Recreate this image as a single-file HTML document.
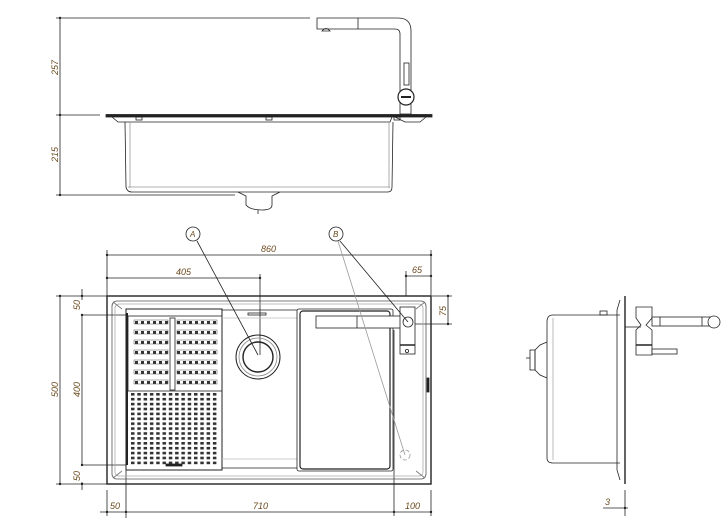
<!DOCTYPE html>
<html><head><meta charset="utf-8"><style>
html,body{margin:0;padding:0;background:#fff}
svg{display:block}
text{font-family:"Liberation Sans",sans-serif;font-size:9px;font-style:italic;fill:#6b4a1e}
</style></head><body>
<svg width="728" height="528" viewBox="0 0 728 528" xmlns="http://www.w3.org/2000/svg">
<defs>
<pattern id="dots" x="131" y="393" width="6.3" height="4.9" patternUnits="userSpaceOnUse">
<rect x="0" y="0" width="3.5" height="2.6" fill="#333"/>
</pattern>
<pattern id="dots2" x="135" y="321" width="6" height="10" patternUnits="userSpaceOnUse">
<rect x="0" y="0" width="3" height="3" fill="#333"/>
</pattern>
</defs>
<g fill="none" stroke="#222" stroke-width="0.8">
<!-- TOP ELEVATION -->
<line x1="60" y1="18" x2="60" y2="195"/>
<line x1="56" y1="18" x2="310" y2="18"/>
<line x1="56" y1="115" x2="100" y2="115"/>
<line x1="56" y1="195" x2="235" y2="195"/>
<rect x="106" y="114.5" width="326" height="2.5" fill="#222"/>
<path d="M112 117 L118 122 L390 122 L392 117"/>
<path d="M395 117 L405 122 L420 122 L426 117"/>
<path d="M125 122 L126 187 Q127 192 132 192 L388 192 Q392 192 392 187 L393 122"/>
<line x1="130" y1="122" x2="130" y2="188" stroke="#999"/>
<line x1="389" y1="122" x2="389" y2="188" stroke="#999"/>
<line x1="128" y1="187" x2="390" y2="187" stroke="#999"/>
<path d="M238 192 L246 196 L246 205 Q250 210 262 210 Q272 210 272 205 L272 196 L280 192"/>
<line x1="258" y1="210" x2="258" y2="214"/>
<rect x="136" y="117" width="6" height="3"/><rect x="266" y="117" width="6" height="3"/><rect x="394" y="117" width="6" height="3"/>
<!-- faucet -->
<path d="M317 18 L398 18 Q411 18 411 31 L411 114 L400 114 L400 34 Q400 29 395 29 L317 29 Z" fill="#fff"/>
<line x1="358" y1="18" x2="358" y2="29"/>
<path d="M322 31 Q326 26 330 31 Z"/>
<rect x="404" y="63" width="5" height="22" fill="#fff"/>
<circle cx="406" cy="97" r="8" fill="#fff" stroke-width="1.2"/>
<line x1="401" y1="97" x2="411" y2="97" stroke-width="2"/>

<!-- PLAN -->
<line x1="107" y1="255" x2="431" y2="255"/>
<line x1="107" y1="250" x2="107" y2="296"/><line x1="431" y1="250" x2="431" y2="296"/>
<line x1="107" y1="278" x2="260" y2="278"/>
<line x1="260" y1="274" x2="260" y2="355"/>
<line x1="406" y1="276" x2="431" y2="276"/>
<line x1="406" y1="271" x2="406" y2="296"/>
<line x1="448" y1="296" x2="448" y2="324"/>
<line x1="415" y1="324" x2="452" y2="324"/>
<line x1="432" y1="296" x2="452" y2="296"/>
<line x1="60" y1="296" x2="60" y2="484"/>
<line x1="56" y1="296" x2="107" y2="296"/><line x1="56" y1="484" x2="107" y2="484"/>
<line x1="82" y1="315" x2="82" y2="465"/>
<line x1="82" y1="315" x2="126" y2="315"/><line x1="82" y1="465" x2="126" y2="465"/>
<line x1="82" y1="289" x2="82" y2="300"/><line x1="82" y1="482" x2="82" y2="490"/>
<line x1="100" y1="512" x2="431" y2="512"/>
<line x1="107" y1="490" x2="107" y2="516"/><line x1="126" y1="465" x2="126" y2="518"/>
<line x1="394" y1="330" x2="394" y2="516"/><line x1="431" y1="490" x2="431" y2="516"/>
<rect x="107" y="296" width="324" height="188" stroke-width="1.4"/>
<rect x="112" y="301" width="314" height="178" rx="5" stroke="#555"/>
<rect x="115" y="304" width="308" height="172" rx="4" stroke="#aaa"/>
<path d="M113 302 L122 309 M425 302 L416 309 M113 478 L122 471 M425 478 L416 471" stroke="#777"/>
<!-- drainer -->
<rect x="126" y="309" width="96" height="161" stroke-width="1"/>
<rect x="128" y="316" width="94" height="75"/>
<line x1="127" y1="313" x2="127" y2="465" stroke-width="2"/>
<rect x="170" y="318" width="5" height="72"/>
<rect x="131" y="393" width="88" height="72" fill="url(#dots)" stroke="none"/>
<rect x="134" y="320" width="34" height="68" fill="url(#dots2)" stroke="none"/>
<rect x="177" y="320" width="40" height="68" fill="url(#dots2)" stroke="none"/>
<g stroke="#555" stroke-width="0.5">
<rect x="134" y="320" width="34" height="4"/><rect x="134" y="330" width="34" height="4"/><rect x="134" y="340" width="34" height="4"/><rect x="134" y="350" width="34" height="4"/><rect x="134" y="360" width="34" height="4"/><rect x="134" y="370" width="34" height="4"/><rect x="134" y="380" width="34" height="4"/>
<rect x="177" y="320" width="40" height="4"/><rect x="177" y="330" width="40" height="4"/><rect x="177" y="340" width="40" height="4"/><rect x="177" y="350" width="40" height="4"/><rect x="177" y="360" width="40" height="4"/><rect x="177" y="370" width="40" height="4"/><rect x="177" y="380" width="40" height="4"/>
</g>
<rect x="166" y="464" width="16" height="2" fill="#222"/>
<!-- basin -->
<line x1="222" y1="310" x2="297" y2="310"/>
<line x1="222" y1="318" x2="297" y2="318" stroke="#bbb"/>
<line x1="222" y1="459" x2="297" y2="459" stroke="#bbb"/>
<line x1="222" y1="468" x2="297" y2="468"/>
<rect x="248" y="313" width="18" height="2"/>
<circle cx="258" cy="357" r="22" stroke-width="1"/>
<circle cx="258" cy="357" r="19" stroke="#888"/>
<circle cx="258" cy="357" r="15" stroke-width="1.4"/>
<!-- cutting board -->
<rect x="297" y="309" width="96" height="162" rx="2"/>
<rect x="300" y="311" width="90" height="158" rx="3" stroke-width="1.2"/>
<rect x="316" y="316" width="90" height="12" fill="#fff"/>
<line x1="357" y1="316" x2="357" y2="328"/>
<rect x="400" y="307" width="15" height="47" fill="#fff"/>
<line x1="400" y1="345" x2="415" y2="345" stroke-width="1.5"/>
<circle cx="407" cy="351" r="1.6"/>
<circle cx="408" cy="322" r="5" fill="#fff"/>
<rect x="427" y="378" width="2" height="14" fill="#222"/>
<circle cx="405" cy="455" r="5" stroke="#999" stroke-dasharray="4 2"/>
<!-- leaders -->
<line x1="197" y1="241" x2="258" y2="355"/>
<line x1="340" y1="241" x2="408" y2="322"/>
<line x1="338" y1="241" x2="405" y2="455" stroke="#999"/>
<circle cx="193" cy="234" r="7" fill="#fff"/>
<circle cx="336" cy="234" r="7" fill="#fff"/>

<!-- SIDE VIEW -->
<line x1="625" y1="296" x2="625" y2="484" stroke-width="1.4"/>
<path d="M620 300 L617 310 L617 470 L620 480"/>
<path d="M620 315 L553 315 Q547 315 547 322 L547 458 Q547 463 553 463 L620 463"/>
<line x1="553" y1="318" x2="553" y2="460" stroke="#aaa"/>
<rect x="600" y="311" width="7" height="4"/>
<path d="M547 342 L540 345 L535 350 L535 370 L540 375 L547 378"/>
<rect x="530" y="350" width="5" height="20"/>
<line x1="526" y1="358" x2="530" y2="358"/>
<path d="M636 307 L652 307 L652 318 L646 325 L652 330 L652 355 L636 355 L636 330 L641 325 L636 318 Z" fill="#fff"/>
<line x1="625" y1="327" x2="641" y2="327"/>
<line x1="636" y1="345" x2="652" y2="345" stroke-width="1.5"/>
<rect x="652" y="317" width="63" height="9" fill="#fff"/>
<line x1="660" y1="317" x2="660" y2="326"/><line x1="702" y1="317" x2="702" y2="326"/>
<circle cx="714" cy="322" r="6" fill="#fff"/>
<rect x="652" y="349" width="25" height="5" fill="#fff"/>
<line x1="625" y1="490" x2="625" y2="516"/>
<line x1="603" y1="508" x2="628" y2="508"/>
</g>
<g fill="#222">
<circle cx="60" cy="18" r="1.2"/><circle cx="60" cy="115" r="1.2"/><circle cx="60" cy="195" r="1.2"/>
<circle cx="107" cy="255" r="1.2"/><circle cx="431" cy="255" r="1.2"/><circle cx="107" cy="278" r="1.2"/><circle cx="260" cy="278" r="1.2"/>
<circle cx="406" cy="276" r="1.2"/><circle cx="431" cy="276" r="1.2"/>
<circle cx="448" cy="296" r="1.2"/><circle cx="448" cy="324" r="1.2"/>
<circle cx="60" cy="296" r="1.2"/><circle cx="60" cy="484" r="1.2"/><circle cx="82" cy="315" r="1.2"/><circle cx="82" cy="465" r="1.2"/><circle cx="82" cy="296" r="1.2"/><circle cx="82" cy="484" r="1.2"/>
<circle cx="107" cy="512" r="1.2"/><circle cx="126" cy="512" r="1.2"/><circle cx="394" cy="512" r="1.2"/><circle cx="431" cy="512" r="1.2"/><circle cx="625" cy="508" r="1.2"/>
</g>
<text transform="translate(58,75) rotate(-90)">257</text>
<text transform="translate(58,162) rotate(-90)">215</text>
<text x="261" y="252">860</text>
<text x="176" y="275">405</text>
<text x="412" y="273">65</text>
<text transform="translate(446,316) rotate(-90)">75</text>
<text transform="translate(58,397) rotate(-90)">500</text>
<text transform="translate(80,397) rotate(-90)">400</text>
<text transform="translate(80,310) rotate(-90)">50</text>
<text transform="translate(80,481) rotate(-90)">50</text>
<text x="110" y="509">50</text>
<text x="253" y="509">710</text>
<text x="405" y="509">100</text>
<text x="605" y="505">3</text>
<text x="190" y="237" style="font-size:8px">A</text>
<text x="333" y="237" style="font-size:8px">B</text>
</svg>
</body></html>
